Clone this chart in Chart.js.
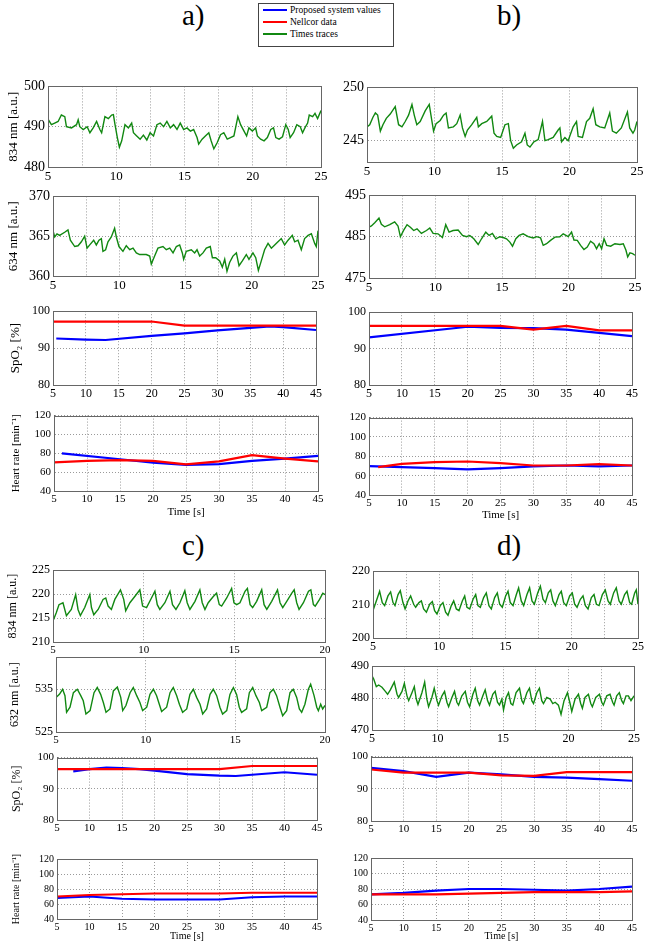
<!DOCTYPE html>
<html>
<head>
<meta charset="utf-8">
<script src="https://cdn.jsdelivr.net/npm/chart.js@4.4.0/dist/chart.umd.min.js"></script>
<style>
  body { margin: 0; width: 651px; height: 942px; position: relative; overflow: hidden; background: #fff;
         font-family: "Liberation Serif", "Times New Roman", serif; }
  canvas { position: absolute; }
  .tag { position: absolute; font-size: 29px; line-height: 1; color: #000; }
  #legend { position: absolute; left: 258px; top: 3px; width: 134px; border: 1px solid #444; padding: 0 0 6px 0; background: #fff; }
  #legend .row { position: relative; height: 12px; line-height: 12px; font-size: 9.5px; padding-left: 31px; white-space: nowrap; }
  #legend .sw { position: absolute; left: 4px; top: 5px; width: 24px; height: 2px; }
</style>
</head>
<body>
<div class="tag" style="left:182px;top:1px">a)</div>
<div class="tag" style="left:497px;top:1px">b)</div>
<div class="tag" style="left:182px;top:531px">c)</div>
<div class="tag" style="left:497px;top:531px">d)</div>
<div id="legend">
  <div class="row"><span class="sw" style="background:#0000ff"></span>Proposed system values</div>
  <div class="row"><span class="sw" style="background:#ff0000"></span>Nellcor data</div>
  <div class="row"><span class="sw" style="background:#118811"></span>Times traces</div>
</div>
<script>
// ---- data: time traces (s) and intensities (a.u.) ----
const a1Time = [5.0,5.25,5.49,5.74,5.98,6.23,6.35,6.72,7.09,7.21,7.33,7.58,7.87,8.07,8.31,8.56,8.80,8.93,9.17,9.42,9.66,9.79,9.91,10.08,10.23,10.40,10.64,10.89,11.13,11.26,11.50,11.75,11.99,12.24,12.48,12.73,12.98,13.22,13.47,13.71,13.96,14.20,14.45,14.69,14.94,15.18,15.43,15.67,15.92,16.04,16.29,16.53,16.78,16.95,17.15,17.39,17.64,17.88,18.13,18.37,18.62,18.91,19.11,19.36,19.55,19.72,19.97,20.21,20.34,20.58,20.83,21.07,21.32,21.52,21.69,21.93,22.18,22.42,22.60,22.74,22.99,23.23,23.48,23.65,23.82,24.02,24.14,24.39,24.56,24.75,25.0];
const a1Values = [491.9,490.5,490.9,491.3,492.9,492.5,490,489.7,490.5,491.7,490,489.3,490,488.5,489.7,491.3,489.3,488.5,492.5,492,492.9,493,490.5,487.3,484.9,486.5,490.5,489.7,490.9,488.5,487.7,486.9,487.9,486.7,488.5,487.7,490.5,490.9,490,491.3,489.7,490.5,489.3,490.9,489.3,489.7,488.9,489.3,487.3,485.7,486.9,487.7,488.5,486.5,484.5,486,488,488.5,486.9,487.3,487.7,492.5,490.5,488.9,487.7,489.7,488.9,489.7,487.7,486.9,486.5,487.3,489.3,489.7,487.3,486.9,487.5,490.5,489.3,487.3,488.5,490.5,490,488.5,489.7,490.9,492.9,492.5,493.3,492,494];

const a2Time = [5.00,5.13,5.30,5.50,5.88,6.13,6.31,6.64,6.89,7.14,7.39,7.57,7.82,8.07,8.27,8.47,8.65,8.77,8.97,9.15,9.40,9.65,9.78,9.98,10.28,10.53,10.79,11.04,11.29,11.54,12.04,12.30,12.42,12.67,12.92,13.30,13.55,13.81,14.06,14.31,14.56,14.76,14.86,15.06,15.44,15.69,15.87,16.07,16.32,16.57,16.87,17.03,17.28,17.58,17.78,17.96,18.13,18.33,18.58,18.84,19.04,19.29,19.59,19.79,20.09,20.30,20.50,20.72,20.97,21.23,21.48,21.73,21.98,22.23,22.48,22.74,23.06,23.24,23.49,23.74,23.99,24.25,24.50,24.75,24.87,25.00];
const a2Values = [365.7,364.9,365.3,365.1,365.5,365.8,364.5,363.7,363.8,364.3,365,363.5,364,364.5,363.9,364.5,364.7,363.1,363.3,364.3,364.9,366,364.9,363.7,363.1,363.8,363.3,363.5,362.9,362.7,362.7,362.5,361.5,362.5,363.5,363.7,363.3,363.5,362.9,363.7,363.9,362.9,362.1,363.1,363.3,362.9,363.3,362.5,362.9,363.5,363.7,362.3,362.3,361.9,361.1,362.1,360.6,361.7,362.5,362.9,361.3,361.9,362.7,362.1,362.9,362.3,360.7,361.9,363.3,364.1,363.5,363.9,364.3,364.7,363.9,364.5,365.1,364.3,364.5,363.3,364.7,365.1,365.3,364.1,363.7,365.7];

const b1Time = [5.00,5.20,5.44,5.62,5.79,5.99,6.18,6.43,6.72,7.09,7.34,7.59,7.83,8.08,8.33,8.50,8.69,8.94,9.31,9.61,9.80,9.93,10.12,10.42,10.67,10.86,11.03,11.40,11.65,11.90,12.07,12.27,12.44,12.76,13.13,13.25,13.50,13.87,14.24,14.41,14.61,14.90,15.22,15.47,15.64,15.84,16.08,16.45,16.70,16.87,17.07,17.36,17.68,18.00,18.18,18.42,18.79,19.16,19.29,19.41,19.66,19.90,20.27,20.52,20.64,20.96,21.26,21.50,21.75,21.95,22.24,22.61,22.98,23.18,23.47,23.84,24.29,24.46,24.70,24.83,25.00];
const b1Values = [246.3,246.5,247.2,247.6,247.4,245.9,246.5,247.1,247.5,248.2,246.5,246.3,246.8,247.4,248.4,247.4,246.5,246.8,247.8,248.4,246.9,245.9,246.6,246.9,247.4,247.6,246.2,246.3,246.6,247.4,246.2,245.4,246,246.5,247.2,246.3,246.6,246.8,247.3,245.7,245.4,245.3,246.5,246.6,245,244.3,244.6,244.9,245.7,244.6,244.4,244.9,245.1,246.8,245,245.1,245.3,246,246.2,244.9,245.3,245,246.3,246.8,245.4,245.3,246.8,247.1,248,246.5,246.3,246.2,247.6,245.9,245.7,246.2,247.7,246.2,245.7,246,246.8];

const b2Time = [5.00,5.18,5.43,5.75,5.93,6.18,6.56,6.93,7.18,7.36,7.61,7.86,8.11,8.36,8.61,8.94,9.32,9.57,9.82,10.19,10.52,10.77,11.02,11.32,11.70,12.03,12.33,12.58,12.88,13.21,13.46,13.78,14.03,14.28,14.54,14.84,15.09,15.34,15.59,15.79,16.04,16.29,16.59,16.97,17.35,17.60,17.90,18.10,18.35,18.65,18.98,19.35,19.60,19.98,20.23,20.41,20.66,20.91,21.16,21.41,21.66,21.91,22.11,22.31,22.49,22.67,22.87,23.17,23.49,23.87,24.12,24.32,24.45,24.62,24.82,25.00];
const b2Values = [487.3,487.6,488.4,489.5,488,487.4,487.9,488.6,487.6,485,486.6,487.9,487.3,486.5,486.9,485.8,486.5,487.1,485.8,485.7,484.8,487.9,486.1,486.5,486.6,485.3,485,485.3,484.5,483.1,484.5,486.1,485.3,485.8,484.5,485,484.8,484.5,483.7,482.7,484.5,485.3,485.7,485,484.7,485,484.7,482.9,483.3,484.1,484.9,485,485.7,485,486.1,484.2,484.1,482.9,481.9,482.5,483.9,483.3,482.1,483.3,482.1,484.5,482.9,482.7,483.3,483.1,483.3,481.7,480.1,481.1,480.9,480.5];

const c1Time = [5.00,5.18,5.33,5.55,5.74,6.01,6.25,6.38,6.51,6.75,7.03,7.12,7.25,7.49,7.76,7.91,8.04,8.22,8.41,8.72,8.90,9.01,9.24,9.51,9.79,9.94,10.16,10.43,10.62,10.75,10.89,11.17,11.45,11.59,11.78,12.00,12.27,12.40,12.55,12.83,13.10,13.23,13.38,13.56,13.84,14.02,14.17,14.30,14.58,14.85,14.98,15.13,15.31,15.59,15.72,15.87,16.01,16.23,16.51,16.64,16.79,17.06,17.38,17.52,17.67,17.89,18.17,18.30,18.44,18.57,18.81,19.09,19.22,19.36,19.46,19.70,19.88,20.00];
const c1Values = [214.4,216.1,217.8,218.2,215.5,216.8,219.9,216.8,215.5,217.2,219.9,217.2,215.7,216.8,218.9,219.2,217.5,216.8,218.9,220.9,218.9,216.5,218.2,219.5,220.9,217.5,217.2,219.2,220.6,217.8,216.8,218.2,220.6,217.8,216.8,218.2,220.7,218.2,216.8,218.5,220.9,218.2,216.8,218.2,219.5,220.2,217.8,217.5,219.2,221.2,218.2,217.8,218.2,220.6,221.2,217.8,217.2,218.5,220.9,217.8,216.8,218.5,220.9,218.2,217.2,218.5,220.2,220.9,218.2,216.8,218.2,220.6,220.9,217.8,217.5,218.9,220.2,219.9];

const c2Time = [5.00,5.19,5.37,5.50,5.59,5.78,5.97,6.19,6.38,6.52,6.67,6.90,7.12,7.30,7.49,7.64,7.79,8.01,8.20,8.42,8.61,8.72,8.90,9.13,9.31,9.50,9.68,9.83,10.06,10.24,10.43,10.61,10.76,10.89,11.17,11.36,11.54,11.73,11.88,12.06,12.29,12.47,12.66,12.84,13.03,13.18,13.40,13.59,13.77,13.96,14.14,14.29,14.52,14.70,14.89,15.07,15.22,15.35,15.63,15.78,15.97,16.15,16.34,16.47,16.75,16.93,17.12,17.30,17.49,17.64,17.86,18.05,18.23,18.42,18.57,18.70,18.88,19.07,19.20,19.39,19.54,19.63,19.76,19.87,20.00];
const c2Values = [533.1,533.8,535,533.5,529.6,530.8,534.2,535,533.5,532.3,529.2,530,534.2,535.4,533.8,531.9,529.6,530.4,534.6,535.5,533.1,530,531.2,534.2,535.4,533.5,531.9,530,530.8,533.8,535,533.5,531.5,529.8,530.8,534.2,535.4,533.5,531.5,529.6,530.4,533.8,535,533.1,531.5,529.2,530.4,533.8,535,533.5,530.8,529.2,530,533.8,535.4,533.8,530.8,529.6,530.4,534.2,535.4,533.5,531.9,530,530.8,534.2,535,533.5,530.8,528.8,530,534.2,535,533.1,530.4,529.6,531.5,535,536.2,533.5,530.8,530,531.5,530.4,531.2];

const d1Time = [5.00,5.25,5.50,5.70,5.88,6.13,6.33,6.51,6.66,6.89,7.06,7.26,7.42,7.64,7.84,8.07,8.22,8.47,8.65,8.82,9.03,9.28,9.48,9.65,9.83,10.08,10.28,10.48,10.66,10.91,11.09,11.29,11.49,11.74,11.92,12.09,12.30,12.55,12.75,12.92,13.10,13.35,13.55,13.75,13.93,14.18,14.38,14.56,14.76,15.01,15.19,15.36,15.57,15.82,15.99,16.19,16.37,16.62,16.82,17.00,17.18,17.43,17.63,17.83,18.01,18.23,18.41,18.58,18.76,19.04,19.21,19.39,19.59,19.84,20.04,20.22,20.40,20.65,20.85,21.03,21.23,21.48,21.68,21.86,22.06,22.31,22.53,22.74,22.91,23.16,23.36,23.57,23.74,23.99,24.17,24.37,24.52,24.75,24.87,25.00];
const d1Values = [208.2,211.1,214,210.6,209.7,212.6,213.8,210.6,209.7,213,214.2,210.6,208.7,211.1,212.6,210.1,209.2,210.6,211.1,208.7,207.7,210.1,210.9,208.2,207.2,209.7,210.6,207.7,206.8,209.7,211.1,208.7,208.2,211.1,212.6,209.2,208.7,211.6,213,209.7,209.2,212.1,213.5,209.7,208.7,212.1,213.5,210.1,209.2,212.6,214,210.6,209.7,213,215,211.1,209.7,213,215,211.1,210.1,213.5,215.5,211.6,210.6,213.5,214.4,211.1,209.7,213,214,210.6,209.7,212.6,213.5,210.1,209.2,211.6,212.6,209.7,208.7,212.1,213,210.1,209.7,213,214.4,211.1,210.1,213.5,215,211.1,210.1,213,214,210.6,210.1,213.5,214.4,210.1];

const d2Time = [5.00,5.13,5.33,5.51,5.76,6.02,6.19,6.40,6.70,6.91,7.03,7.29,7.47,7.67,7.80,8.05,8.23,8.38,8.51,8.81,9.02,9.19,9.32,9.57,9.75,9.96,10.08,10.34,10.54,10.72,10.85,11.10,11.30,11.48,11.61,11.86,12.12,12.29,12.45,12.70,12.88,13.06,13.21,13.46,13.64,13.82,13.97,14.22,14.40,14.58,14.73,14.91,15.04,15.24,15.42,15.60,15.75,16.00,16.26,16.44,16.56,16.82,17.02,17.20,17.33,17.58,17.78,17.96,18.09,18.34,18.60,18.80,18.98,19.23,19.43,19.66,19.92,20.12,20.25,20.50,20.76,20.93,21.06,21.26,21.52,21.70,21.82,22.08,22.36,22.54,22.66,22.92,23.17,23.37,23.48,23.68,23.88,24.06,24.19,24.39,24.57,24.77,25.00];
const d2Values = [487,486,483.6,484.1,483.4,482.1,481.2,482.6,485,481.2,480.2,482.1,484.6,480.7,479.2,481.7,483.6,479.7,478,481.7,485,479.7,477.3,480.2,483.1,479.2,477.8,480.7,482.1,478.7,477.3,480.2,482.1,478.7,477.8,480.7,482.1,478.7,477.3,481.2,483.1,479.2,477.8,480.7,482.6,479.2,477.8,481.2,482.1,478.7,477.8,479.7,476.3,480.2,481.7,478.3,477.8,481.7,483.1,479.2,478.3,481.7,483.1,479.2,478.3,481.7,483.1,479.2,478.3,480.2,479.7,478.3,478.7,477.8,474.9,479.2,481.7,478.3,475.8,479.7,481.2,478.3,476.8,480.2,481.2,478.3,477.3,480.2,481.2,478.7,477.8,480.7,481.2,478.7,477.8,480.7,481.7,479.2,478.3,480.7,480.7,479.2,480.7];

// ---- data: SpO2 (%) and heart rate (1/min) ----
const aSpoBlueT = [5.5, 10, 13, 20, 25, 30, 35, 38, 40, 45];
const aSpoBlue  = [92.6, 92.3, 92.2, 93.3, 94.0, 94.8, 95.5, 95.9, 95.7, 94.9];
const aSpoRedT  = [5, 20, 25, 45];
const aSpoRed   = [97.2, 97.2, 96.1, 96.1];
const aHrBlueT  = [6.2, 15, 20, 25, 30, 35, 40, 45];
const aHrBlue   = [80, 73.7, 70.2, 67.8, 68.5, 72, 74.4, 77.2];
const aHrRedT   = [5, 10, 15, 20, 25, 30, 35, 40, 45];
const aHrRed    = [70.3, 72, 72.7, 72, 68.2, 71.4, 78, 74.4, 71.4];

const bSpoBlueT = [5, 20, 25, 30, 35, 40, 45];
const bSpoBlue  = [93.1, 96, 95.7, 95.6, 95.2, 94.3, 93.4];
const bSpoRedT  = [5, 25, 30, 35, 40, 45];
const bSpoRed   = [96.25, 96.25, 95.2, 96.25, 95, 95];
const bHrBlueT  = [5, 10, 15, 20, 25, 30, 35, 40, 45];
const bHrBlue   = [69.8, 68.8, 67.8, 66.4, 67.8, 69.5, 70.5, 69.5, 70.5];
const bHrRedT   = [6.4, 10, 15, 20, 25, 30, 35, 40, 45];
const bHrRed    = [68.8, 72.2, 73.9, 74.6, 72.9, 70.5, 70.5, 71.9, 70.5];

const cSpoBlueT = [7.5, 10, 12.6, 15, 17.7, 20, 25, 30, 32.5, 35, 40, 45];
const cSpoBlue  = [95.6, 96.3, 96.8, 96.6, 96.3, 95.8, 94.7, 94.2, 94.1, 94.5, 95.3, 94.5];
const cSpoRedT  = [5, 30, 35, 45];
const cSpoRed   = [96.3, 96.3, 97.3, 97.3];
const cHrT      = [5, 10, 15, 20, 25, 30, 35, 40, 45];
const cHrBlue   = [68, 70, 67, 66, 66, 66, 69, 70, 70];
const cHrRed    = [70, 72, 73, 74, 74, 74, 75, 75, 75];

const dSpoT     = [5, 10, 15, 20, 25, 30, 35, 40, 45];
const dSpoBlue  = [96.5, 95.5, 93.7, 95, 94.5, 93.7, 93.5, 93, 92.5];
const dSpoRed   = [96, 95, 95, 95, 94.2, 94, 95.2, 95.2, 95.2];
const dHrT      = [5, 10, 15, 20, 25, 30, 35, 40, 45];
const dHrBlue   = [73, 75, 78, 80, 80, 79, 78, 80, 83];
const dHrRed    = [73, 73, 73, 74, 75, 76, 76, 76, 77];

// tick lists where the axis range does not start on a tick
const b1Ticks = [245, 250];
const c2Ticks = [525, 535];

const GREEN = '#118811', BLUE = '#0000ff', RED = '#ff0000';
const SERIF = '"Liberation Serif", "Times New Roman", serif';

function pairs(t, v) {
  const n = Math.min(t.length, v.length);
  const out = [];
  for (let i = 0; i < n; i++) out.push({ x: t[i], y: v[i] });
  return out;
}

const frame = {
  id: 'frame',
  afterDraw(chart) {
    const { ctx, chartArea: a } = chart;
    ctx.save();
    ctx.strokeStyle = '#666';
    ctx.lineWidth = 1;
    ctx.strokeRect(Math.round(a.left) + 0.5, Math.round(a.top) + 0.5,
                   Math.round(a.right - a.left), Math.round(a.bottom - a.top));
    ctx.restore();
  }
};

function panel(p) {
  // p.box = plot area [left, top, right, bottom] in page px
  const [x0, y0, x1, y1] = p.box;
  const cv = document.createElement('canvas');
  const top = y0 - 8;
  cv.width = x1 - p.cl + 12;
  cv.height = y1 - top + p.below;
  cv.style.left = p.cl + 'px';
  cv.style.top = top + 'px';
  document.body.appendChild(cv);

  const yAxis = {
    type: 'linear', min: p.ymin, max: p.ymax,
    afterFit(s) { s.width = x0 - p.cl; },
    grid: { color: '#9a9a9a', drawTicks: false },
    border: { color: '#666', dash: [1, 2] },
    ticks: { stepSize: p.ystep, color: '#000', padding: 3, font: { family: SERIF, size: p.tf } },
    title: {
      display: !!p.ytitle, text: p.ytitle, color: '#000',
      font: { family: SERIF, size: p.ytf || 12 }, padding: { top: p.ytpad || 4, bottom: 0 }
    }
  };
  if (p.yticks) {
    yAxis.afterBuildTicks = s => { s.ticks = p.yticks.map(v => ({ value: v })); };
  }

  new Chart(cv, {
    type: 'line',
    data: {
      datasets: p.series.map(s => ({
        data: pairs(s.t, s.v), borderColor: s.c, borderWidth: s.c === GREEN ? 1.4 : 2.2,
        pointRadius: 0, tension: 0, fill: false
      }))
    },
    options: {
      responsive: false, animation: false, events: [],
      layout: { padding: { top: 8, right: 12, left: 0, bottom: 0 } },
      plugins: { legend: { display: false }, tooltip: { enabled: false } },
      scales: {
        x: {
          type: 'linear', min: p.xmin, max: p.xmax,
          afterFit(s) { s.height = p.below; },
          grid: { color: '#9a9a9a', drawTicks: false },
          border: { color: '#666', dash: [1, 2] },
          ticks: {
            stepSize: p.xstep, autoSkip: false, maxRotation: 0, color: '#000', padding: 2,
            font: { family: SERIF, size: p.xf || p.tf },
            callback: v => (v % 5 === 0 ? v : '')
          },
          title: {
            display: !!p.xtitle, text: p.xtitle, color: '#000',
            font: { family: SERIF, size: p.xtf || 12 }, padding: { top: 0, bottom: 0 }
          }
        },
        y: yAxis
      }
    },
    plugins: [frame]
  });
}

const L = 0, R = 335;

// a)
panel({ cl: L, box: [48, 83, 321, 167], below: 18, xmin: 5, xmax: 25, xstep: 2.5, ymin: 480, ymax: 500, ystep: 10,
        tf: 14, xf: 13, ytitle: '834 nm [a.u.]', ytf: 13, ytpad: 6, series: [{ t: a1Time, v: a1Values, c: GREEN }] });
panel({ cl: L, box: [53, 193, 318, 276], below: 18, xmin: 5, xmax: 25, xstep: 2.5, ymin: 360, ymax: 370, ystep: 5,
        tf: 14, xf: 13, ytitle: '634 nm [a.u.]', ytf: 13, ytpad: 6, series: [{ t: a2Time, v: a2Values, c: GREEN }] });
panel({ cl: L, box: [53, 309, 316, 385], below: 16, xmin: 5, xmax: 45, xstep: 5, ymin: 80, ymax: 100, ystep: 10,
        tf: 12, ytitle: 'SpO₂ [%]', ytf: 13, ytpad: 8,
        series: [{ t: aSpoRedT, v: aSpoRed, c: RED }, { t: aSpoBlueT, v: aSpoBlue, c: BLUE }] });
panel({ cl: L, box: [54, 414, 318, 491], below: 28, xmin: 5, xmax: 45, xstep: 5, ymin: 40, ymax: 120, ystep: 20,
        tf: 11, ytitle: 'Heart rate [min⁻¹]', ytf: 11, ytpad: 10, xtitle: 'Time [s]', xtf: 11,
        series: [{ t: aHrRedT, v: aHrRed, c: RED }, { t: aHrBlueT, v: aHrBlue, c: BLUE }] });

// b)
panel({ cl: R, box: [367, 84, 637, 162], below: 18, xmin: 5, xmax: 25, xstep: 5, ymin: 243, ymax: 250, yticks: b1Ticks,
        tf: 14, xf: 13, series: [{ t: b1Time, v: b1Values, c: GREEN }] });
panel({ cl: R, box: [369, 192, 635, 278], below: 18, xmin: 5, xmax: 25, xstep: 2.5, ymin: 475, ymax: 495, ystep: 10,
        tf: 14, xf: 13, series: [{ t: b2Time, v: b2Values, c: GREEN }] });
panel({ cl: R, box: [369, 310, 632, 385], below: 16, xmin: 5, xmax: 45, xstep: 5, ymin: 80, ymax: 100, ystep: 10,
        tf: 12, series: [{ t: bSpoRedT, v: bSpoRed, c: RED }, { t: bSpoBlueT, v: bSpoBlue, c: BLUE }] });
panel({ cl: R, box: [369, 416, 632, 495], below: 27, xmin: 5, xmax: 45, xstep: 5, ymin: 40, ymax: 120, ystep: 20,
        tf: 11, xtitle: 'Time [s]', xtf: 11,
        series: [{ t: bHrRedT, v: bHrRed, c: RED }, { t: bHrBlueT, v: bHrBlue, c: BLUE }] });

// c)
panel({ cl: L, box: [53, 568, 325, 642], below: 16, xmin: 5, xmax: 20, xstep: 5, ymin: 210, ymax: 225, ystep: 5,
        tf: 12, xf: 11, ytitle: '834 nm [a.u.]', ytf: 12, ytpad: 6, series: [{ t: c1Time, v: c1Values, c: GREEN }] });
panel({ cl: L, box: [56, 655, 325, 732], below: 16, xmin: 5, xmax: 20, xstep: 5, ymin: 525, ymax: 542.5, yticks: c2Ticks,
        tf: 12, xf: 11, ytitle: '632 nm [a.u.]', ytf: 12, ytpad: 8, series: [{ t: c2Time, v: c2Values, c: GREEN }] });
panel({ cl: L, box: [57, 756, 317, 820], below: 14, xmin: 5, xmax: 45, xstep: 5, ymin: 80, ymax: 100, ystep: 10,
        tf: 11, ytitle: 'SpO₂ [%]', ytf: 12, ytpad: 10,
        series: [{ t: cSpoRedT, v: cSpoRed, c: RED }, { t: cSpoBlueT, v: cSpoBlue, c: BLUE }] });
panel({ cl: L, box: [57, 858, 317, 919], below: 23, xmin: 5, xmax: 45, xstep: 5, ymin: 40, ymax: 120, ystep: 20,
        tf: 10, ytitle: 'Heart rate [min⁻¹]', ytf: 10, ytpad: 10, xtitle: 'Time [s]', xtf: 10,
        series: [{ t: cHrT, v: cHrRed, c: RED }, { t: cHrT, v: cHrBlue, c: BLUE }] });

// d)
panel({ cl: R, box: [373, 569, 638, 638], below: 18, xmin: 5, xmax: 25, xstep: 2.5, ymin: 200, ymax: 220, ystep: 10,
        tf: 12, xf: 12, series: [{ t: d1Time, v: d1Values, c: GREEN }] });
panel({ cl: R, box: [372, 664, 634, 730], below: 18, xmin: 5, xmax: 25, xstep: 2.5, ymin: 470, ymax: 490, ystep: 10,
        tf: 12, xf: 12, series: [{ t: d2Time, v: d2Values, c: GREEN }] });
panel({ cl: R, box: [371, 755, 632, 821], below: 14, xmin: 5, xmax: 45, xstep: 5, ymin: 80, ymax: 100, ystep: 10,
        tf: 11, series: [{ t: dSpoT, v: dSpoRed, c: RED }, { t: dSpoT, v: dSpoBlue, c: BLUE }] });
panel({ cl: R, box: [371, 857, 632, 920], below: 22, xmin: 5, xmax: 45, xstep: 5, ymin: 40, ymax: 120, ystep: 20,
        tf: 10, xtitle: 'Time [s]', xtf: 10,
        series: [{ t: dHrT, v: dHrRed, c: RED }, { t: dHrT, v: dHrBlue, c: BLUE }] });
</script>
</body>
</html>
